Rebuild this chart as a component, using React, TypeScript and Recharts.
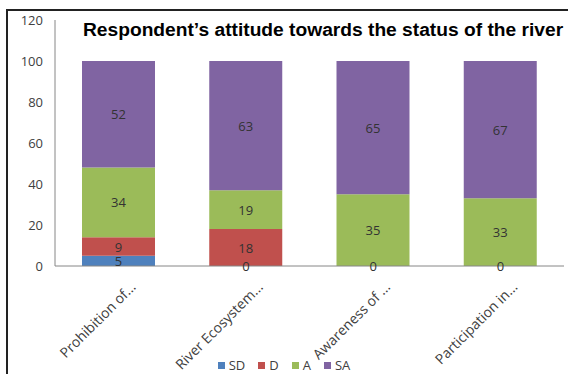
import React from 'react';
import { ComposedChart, Bar, Line, XAxis, YAxis, Legend, LabelList } from 'recharts';

const categories = ['Prohibition of...', 'River Ecosystem...', 'Awareness of ...', 'Participation in...'];
const sdValues = [5, 0, 0, 0];
const dValues = [9, 18, 0, 0];
const aValues = [34, 19, 35, 33];
const saValues = [52, 63, 65, 67];
const yTicks = [0, 20, 40, 60, 80, 100, 120];

const series = [
  { key: 'SD', color: '#4f81bd' },
  { key: 'D', color: '#c0504d' },
  { key: 'A', color: '#9bbb59' },
  { key: 'SA', color: '#8064a2' },
];

const data = categories.map((name, i) => ({
  name,
  SD: sdValues[i],
  D: dValues[i],
  A: aValues[i],
  SA: saValues[i],
  // zero-height segments get no label from the bars, so show their "0" through a hidden line
  zero: sdValues[i] === 0 ? 0 : null,
}));

const font = '"Open Sans", sans-serif';

const AngledTick = ({ x, y, payload }: any) => (
  <g transform={`translate(${x + 18},${y + 14})`}>
    <text
      x={0}
      y={0}
      textAnchor="end"
      transform="rotate(-45)"
      fill="#404040"
      fontSize={14}
      fontFamily={font}
    >
      {payload.value}
    </text>
  </g>
);

const SegmentLabel = (props: any) => {
  const { x, y, width, height, value } = props;
  if (value == null) return null;
  return (
    <text
      x={Number(x) + Number(width || 0) / 2}
      y={Number(y) + Number(height || 0) / 2}
      textAnchor="middle"
      dominantBaseline="central"
      fill="#333"
      fontSize={13}
      fontFamily={font}
    >
      {value}
    </text>
  );
};

const legendContent = () => (
  <div style={{ display: 'flex', justifyContent: 'center', gap: 13, fontFamily: font, fontSize: 13, color: '#404040' }}>
    {series.map((s) => (
      <span key={s.key} style={{ display: 'flex', alignItems: 'center', gap: 4 }}>
        <span style={{ width: 7, height: 7, background: s.color, display: 'inline-block' }} />
        {s.key}
      </span>
    ))}
  </div>
);

export default function App() {
  return (
    <div style={{ position: 'fixed', left: 0, top: 0, width: 568, height: 374, background: '#fff' }}>
      <div
        style={{
          position: 'absolute',
          left: 6,
          top: 9,
          width: 562,
          height: 365,
          borderLeft: '2px solid #222',
          borderTop: '2px solid #222',
        }}
      />
      <div
        style={{
          position: 'absolute',
          left: 83,
          top: 19,
          fontFamily: '"Liberation Sans", Arial, sans-serif',
          fontWeight: 'bold',
          fontSize: 19.2,
          color: '#000',
          whiteSpace: 'nowrap',
        }}
      >
        Respondent’s attitude towards the status of the river
      </div>
      <ComposedChart
        width={568}
        height={374}
        data={data}
        margin={{ top: 20, right: 4, left: 0, bottom: 28 }}
        barSize={73}
      >
        <XAxis
          dataKey="name"
          interval={0}
          tickLine={false}
          axisLine={{ stroke: '#868686' }}
          height={80}
          tick={<AngledTick />}
        />
        <YAxis
          domain={[0, 120]}
          ticks={yTicks}
          width={55}
          tickLine={false}
          tickMargin={6}
          axisLine={{ stroke: '#868686' }}
          tick={{ fill: '#404040', fontSize: 13, fontFamily: font }}
        />
        <Legend
          verticalAlign="middle"
          align="center"
          layout="horizontal"
          content={legendContent}
          wrapperStyle={{ top: 356, left: 0, width: 568 }}
        />
        {series.map((s) => (
          <Bar key={s.key} dataKey={s.key} stackId="a" fill={s.color} isAnimationActive={false}>
            <LabelList dataKey={s.key} content={<SegmentLabel />} />
          </Bar>
        ))}
        <Line
          dataKey="zero"
          stroke="none"
          dot={false}
          activeDot={false}
          legendType="none"
          isAnimationActive={false}
        >
          <LabelList dataKey="zero" content={<SegmentLabel />} />
        </Line>
      </ComposedChart>
    </div>
  );
}
